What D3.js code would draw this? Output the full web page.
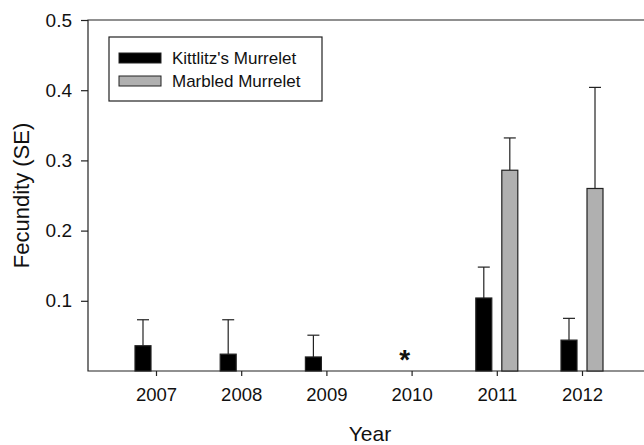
<!DOCTYPE html>
<html>
<head>
<meta charset="utf-8">
<script src="https://cdn.jsdelivr.net/npm/d3@7"></script>
<style>
  body { margin: 0; background: #fff; }
  svg text { font-family: Arial, "Liberation Sans", sans-serif; fill: #111; }
</style>
</head>
<body>
<div id="chart"></div>
<script>
// data
const years = ["2007", "2008", "2009", "2010", "2011", "2012"];
const series = ["Kittlitz's Murrelet", "Marbled Murrelet"];
const kittlitzMean = [0.036, 0.024, 0.020, null, 0.104, 0.044];
const kittlitzSE   = [0.037, 0.049, 0.031, null, 0.044, 0.031];
const marbledMean  = [null, null, null, null, 0.286, 0.260];
const marbledSE    = [null, null, null, null, 0.046, 0.144];
const yTicks = [0.1, 0.2, 0.3, 0.4, 0.5];
const noDataYears = ["2010"];

const W = 644, H = 445;
const svg = d3.select("#chart").append("svg")
  .attr("width", W).attr("height", H);

const x = d3.scalePoint().domain(years).range([156, 582]);
const x1 = d3.scaleBand().domain(series).range([-21, 21]).paddingInner(0.385);
const y = d3.scaleLinear().domain([0, 0.5]).range([371, 20]);
const fill = d3.scaleOrdinal().domain(series).range(["#000000", "#b0b0b0"]);

const rows = [];
years.forEach((yr, i) => {
  if (kittlitzMean[i] != null) rows.push({ year: yr, s: series[0], v: kittlitzMean[i], se: kittlitzSE[i] });
  if (marbledMean[i] != null) rows.push({ year: yr, s: series[1], v: marbledMean[i], se: marbledSE[i] });
});

// frame
const left = 88, right = 660;
svg.append("path")
  .attr("d", `M${right},${y(0.5)}H${left}V${y(0)}H${right}`)
  .attr("fill", "none").attr("stroke", "#222").attr("stroke-width", 1.2);

// y axis
const yAxis = svg.append("g")
  .attr("transform", `translate(${left},0)`)
  .call(d3.axisLeft(y).tickValues(yTicks).tickSize(7).tickPadding(9).tickFormat(d3.format(".1f")));
yAxis.select(".domain").remove();
yAxis.selectAll("line").attr("stroke", "#222").attr("stroke-width", 1.2);
yAxis.selectAll("text").style("font-size", "19px").attr("fill", "#111");

// x axis
const xAxis = svg.append("g")
  .attr("transform", `translate(0,${y(0)})`)
  .call(d3.axisBottom(x).tickSize(5).tickPadding(12));
xAxis.select(".domain").remove();
xAxis.selectAll("line").attr("stroke", "#222").attr("stroke-width", 1.2);
xAxis.selectAll("text").style("font-size", "18.5px").attr("fill", "#111");

// error bars (upper only)
const eb = svg.append("g").selectAll("g")
  .data(rows)
  .join("g")
    .attr("transform", d => `translate(${x(d.year) + x1(d.s) + x1.bandwidth() / 2},0)`);
eb.append("line")
  .attr("y1", d => y(d.v)).attr("y2", d => y(d.v + d.se))
  .attr("stroke", "#222").attr("stroke-width", 1.2);
eb.append("line")
  .attr("x1", -6).attr("x2", 6)
  .attr("y1", d => y(d.v + d.se)).attr("y2", d => y(d.v + d.se))
  .attr("stroke", "#222").attr("stroke-width", 1.2);

// bars
svg.append("g").selectAll("rect")
  .data(rows)
  .join("rect")
    .attr("x", d => x(d.year) + x1(d.s))
    .attr("y", d => y(d.v))
    .attr("width", x1.bandwidth())
    .attr("height", d => y(0) - y(d.v))
    .attr("fill", d => fill(d.s))
    .attr("stroke", "#222").attr("stroke-width", 1.2);

// no data marker
svg.append("g").selectAll("text")
  .data(noDataYears)
  .join("text")
    .attr("x", d => x(d) - 7)
    .attr("y", y(0) - 2)
    .attr("text-anchor", "middle")
    .style("font-size", "28px")
    .style("font-weight", "bold")
    .text("*");

// axis titles
svg.append("text")
  .attr("transform", `translate(29,${(y(0) + y(0.5)) / 2}) rotate(-90)`)
  .attr("text-anchor", "middle")
  .style("font-size", "22px")
  .text("Fecundity (SE)");
svg.append("text")
  .attr("x", 370).attr("y", 441)
  .attr("text-anchor", "middle")
  .style("font-size", "21px")
  .text("Year");

// legend
const lg = svg.append("g").attr("transform", "translate(109,37)");
lg.append("rect")
  .attr("width", 213).attr("height", 64)
  .attr("fill", "#fff").attr("stroke", "#222").attr("stroke-width", 1.2);
const item = lg.selectAll(".item")
  .data(series)
  .join("g")
    .attr("class", "item")
    .attr("transform", (d, i) => `translate(10,${16 + i * 23})`);
item.append("rect")
  .attr("width", 42).attr("height", 10)
  .attr("fill", d => fill(d))
  .attr("stroke", "#222").attr("stroke-width", 1);
item.append("text")
  .attr("x", 53).attr("y", 11)
  .style("font-size", "17px")
  .text(d => d);
</script>
</body>
</html>
